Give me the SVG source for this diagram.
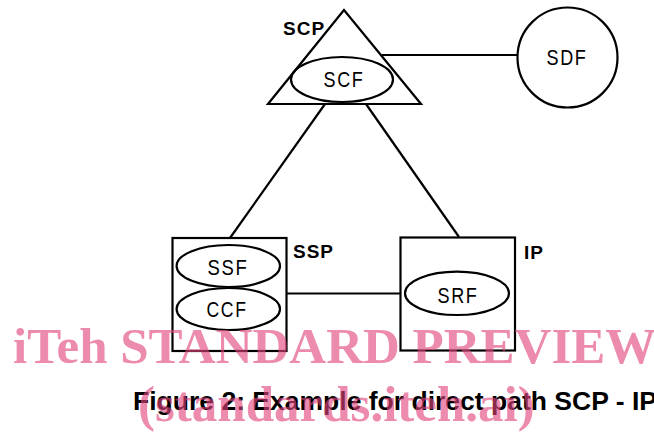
<svg xmlns="http://www.w3.org/2000/svg" width="654" height="432" viewBox="0 0 654 432">
  <style>
    .shape { fill: none; stroke: #000; stroke-width: 2.2; }
    .wire { stroke: #000; stroke-width: 2.2; fill: none; }
    .fn { font-family: "Liberation Sans", Arial, sans-serif; font-size: 22px; fill: #000; text-anchor: middle; letter-spacing: 2px; }
    .tag { font-family: "Liberation Sans", Arial, sans-serif; font-size: 19px; font-weight: bold; fill: #000; letter-spacing: 1px; }
    .caption { font-family: "Liberation Sans", Arial, sans-serif; font-size: 25px; font-weight: bold; fill: #000; }
    .mark { font-family: "Liberation Serif", "Times New Roman", serif; font-size: 51px; font-weight: bold; fill: #e2457e; opacity: 0.62; }
  </style>
  <rect width="654" height="432" fill="#fff"/>

  <!-- links between the network entities -->
  <g id="connectors">
    <line class="wire" x1="382" y1="55" x2="517" y2="55"/>
    <line class="wire" x1="325" y1="104" x2="230" y2="238"/>
    <line class="wire" x1="366" y1="104" x2="459" y2="237"/>
    <line class="wire" x1="287" y1="293.5" x2="400" y2="293.5"/>
  </g>

  <g id="scp">
    <polygon class="shape" points="344,10 268,104 421,104"/>
    <text class="tag" x="283" y="35">SCP</text>
    <ellipse class="shape" cx="342" cy="79.5" rx="51" ry="22.5"/>
    <text class="fn" x="344" y="86.5" textLength="41" lengthAdjust="spacingAndGlyphs">SCF</text>
  </g>

  <g id="sdf">
    <circle class="shape" cx="567.5" cy="57.5" r="50"/>
    <text class="fn" x="567" y="64.5" textLength="41" lengthAdjust="spacingAndGlyphs">SDF</text>
  </g>

  <g id="ssp">
    <rect class="shape" x="172.5" y="238" width="114" height="113"/>
    <text class="tag" x="293" y="258">SSP</text>
    <ellipse class="shape" cx="228.3" cy="266" rx="51.7" ry="21"/>
    <text class="fn" x="228" y="275" textLength="41" lengthAdjust="spacingAndGlyphs">SSF</text>
    <ellipse class="shape" cx="228.3" cy="309" rx="51.7" ry="21"/>
    <text class="fn" x="227" y="317" textLength="41" lengthAdjust="spacingAndGlyphs">CCF</text>
  </g>

  <g id="ip">
    <rect class="shape" x="400.5" y="237.5" width="114.5" height="113"/>
    <text class="tag" x="524" y="259">IP</text>
    <ellipse class="shape" cx="457" cy="293.3" rx="52" ry="21.7"/>
    <text class="fn" x="458" y="303" textLength="41" lengthAdjust="spacingAndGlyphs">SRF</text>
  </g>

  <text class="caption" x="133" y="410" textLength="524" lengthAdjust="spacingAndGlyphs">Figure 2: Example for direct path SCP - IP</text>

  <g id="watermark">
    <text class="mark" x="13" y="363">iTeh STANDARD PREVIEW</text>
    <text class="mark" x="138" y="421">(standards.iteh.ai)</text>
  </g>
</svg>
